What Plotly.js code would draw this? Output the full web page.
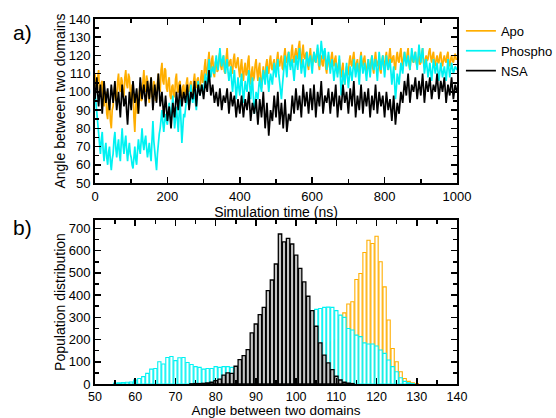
<!DOCTYPE html>
<html>
<head>
<meta charset="utf-8">
<script src="https://cdn.plot.ly/plotly-3.0.1.min.js"></script>
<style>html,body{margin:0;padding:0;background:#fff;}#chart{width:556px;height:418px;}</style>
</head>
<body>
<div id="chart"></div>
<script>
// ---- Time series (a): angle between two domains, sampled every 2.5 ns ----
const timeStep = 2.5;
const apoAngle = [
110,103,104,108,112,100,98,105,106,96,92,99,100,88,85,94,96,84,80,90,
92,100,104,95,96,106,110,101,100,108,106,97,98,108,112,104,102,110,108,100,
95,104,103,86,78,92,98,88,90,100,105,95,96,106,112,103,100,109,106,98,
94,103,108,97,98,106,104,95,96,105,110,101,100,112,116,106,104,113,112,102,
100,106,108,98,96,103,104,97,98,107,110,100,100,105,106,97,96,103,104,99,
98,105,108,101,100,104,106,98,97,106,110,103,102,107,108,101,100,108,112,105,
106,114,118,109,110,117,122,113,112,118,120,110,108,116,118,111,112,119,122,114,
112,117,120,111,110,119,124,115,114,117,118,111,110,118,121,114,113,117,119,112,
108,114,118,110,106,113,116,109,110,117,120,108,104,111,114,106,108,115,118,111,
106,113,116,105,102,110,114,107,108,115,118,111,110,117,120,113,112,116,118,112,
110,118,122,115,114,118,120,113,112,120,124,117,116,120,122,115,114,122,126,118,
116,121,124,119,118,125,128,120,114,122,126,119,118,121,122,115,112,120,124,117,
114,119,122,117,116,121,124,115,112,118,120,115,114,120,122,113,110,117,120,114,
112,119,122,116,114,118,120,113,110,115,118,111,108,113,116,108,104,110,114,109,
110,117,120,115,114,119,122,115,112,116,118,112,110,118,122,116,114,118,120,113,
110,115,118,113,112,117,120,113,110,118,122,116,114,117,118,112,110,117,120,115,
114,119,122,115,112,120,124,118,116,119,120,114,112,119,122,117,116,121,124,117,
114,119,122,117,116,121,124,115,112,118,120,117,116,120,122,116,114,118,120,115,
116,121,124,116,114,118,120,117,118,122,124,119,116,120,122,116,114,118,120,116,
116,120,122,116,114,118,120,117,116,120,122,116,114,118,120,117,116,119,121,118,
118];
const phosphoAngle = [
100,94,88,80,76,70,66,74,78,68,62,68,72,64,60,67,70,62,57,63,
66,74,78,69,64,70,74,66,62,72,80,71,66,72,76,68,62,68,72,66,
64,60,58,64,70,63,60,68,74,69,66,73,80,72,68,73,76,69,64,68,
72,66,62,74,84,73,66,61,57,66,74,77,80,86,90,83,78,84,88,84,
82,89,94,88,84,91,98,88,80,86,92,85,78,88,96,84,72,80,88,86,
90,96,100,94,92,99,104,97,94,98,100,94,90,99,106,101,98,102,104,101,
100,106,110,106,104,112,118,112,108,112,114,111,110,116,120,115,112,118,124,118,
114,118,120,114,110,115,118,111,106,110,114,106,100,106,112,104,96,102,108,102,
98,105,110,101,94,100,106,102,100,107,112,104,96,103,108,97,88,94,100,98,
96,103,108,103,100,107,112,108,104,110,114,106,100,106,110,107,104,110,116,111,
108,114,118,110,104,99,96,103,110,116,120,113,108,116,122,117,112,116,118,111,
106,113,120,116,112,119,124,116,110,114,118,113,108,115,122,118,114,118,120,115,
110,117,122,119,116,121,126,120,114,121,128,123,118,122,124,118,112,117,122,116,
110,115,118,112,106,111,116,112,108,114,120,110,98,104,112,108,104,110,116,108,
102,108,114,110,106,112,118,113,108,112,116,110,104,112,120,115,110,113,116,111,
106,112,118,113,108,114,120,116,112,115,118,112,106,114,122,117,112,116,120,114,
108,114,120,116,112,115,118,111,104,109,114,105,96,102,110,107,104,110,116,113,
110,116,122,118,114,117,120,116,112,118,124,120,116,119,122,117,112,119,126,121,
116,120,124,117,110,114,118,113,108,112,116,111,106,112,118,114,110,113,116,111,
106,111,116,112,108,111,114,110,106,112,118,113,108,112,116,113,110,112,114,113,
112];
const nsaAngle = [
96,103,108,99,92,98,104,96,88,97,106,100,94,98,102,95,90,97,104,99,
94,100,106,97,90,95,100,93,86,95,104,98,92,95,98,89,82,91,100,95,
90,98,106,100,94,98,102,95,88,98,108,102,96,100,104,98,92,99,106,101,
96,102,108,99,90,97,104,99,94,102,110,101,92,96,100,93,86,92,98,91,
84,88,92,86,80,87,94,90,86,93,100,95,90,97,104,98,92,96,100,97,
94,99,104,97,90,95,100,98,96,101,106,99,92,98,104,101,98,101,104,100,
96,101,106,103,100,106,112,105,98,101,104,99,94,97,100,96,92,97,102,96,
90,94,98,96,94,98,102,95,88,94,100,96,92,95,98,92,86,91,96,92,
88,93,98,92,86,91,96,93,90,95,100,92,84,89,94,91,88,92,96,89,
82,89,96,91,86,93,100,90,80,87,94,85,76,83,90,87,84,91,98,92,
86,93,100,91,82,88,94,87,80,88,96,87,78,83,88,86,84,91,98,93,
88,95,102,96,90,94,98,92,86,95,104,98,92,96,100,94,88,95,102,96,
90,97,104,95,86,93,100,96,92,99,106,97,88,93,98,96,94,98,102,95,
88,94,100,96,92,98,104,95,86,92,98,94,90,97,104,99,94,97,100,94,
88,95,102,97,92,99,106,96,86,92,98,94,90,97,104,96,88,94,100,96,
92,97,102,94,86,92,98,94,90,97,104,96,88,94,100,96,92,95,98,92,
86,93,100,95,90,93,96,90,84,91,98,90,82,88,94,91,88,94,100,97,
94,100,106,102,98,104,110,102,94,99,104,102,100,104,108,102,96,101,106,102,
98,104,110,102,94,100,106,103,100,104,108,102,96,100,104,102,100,105,110,103,
96,101,106,103,100,104,108,101,94,99,104,101,98,103,108,102,96,100,104,102,
100];

// ---- Histograms (b): population per 1-degree bin ----
const apoBins = [78,79,80,81,82,83,84,85,86,87,88,89,90,91,92,93,94,95,96,97,98,99,100,101,102,103,104,105,106,107,108,109,110,111,112,113,114,115,116,117,118,119,120,121,122,123,124,125,126,127,128,129,130];
const apoCounts = [3,5,8,10,10,12,12,12,15,20,25,25,35,55,60,70,80,105,120,145,150,150,195,180,160,160,170,180,130,135,185,190,200,290,320,360,370,470,497,592,647,632,665,550,437,288,160,100,55,25,12,5,2];
const phosphoBins = [55,56,57,58,59,60,61,62,63,64,65,66,67,68,69,70,71,72,73,74,75,76,77,78,79,80,81,82,83,84,85,86,87,88,89,90,91,92,93,94,95,96,97,98,99,100,101,102,103,104,105,106,107,108,109,110,111,112,113,114,115,116,117,118,119,120,121,122,123,124,125,126,127,128,129];
const phosphoCounts = [4,5,6,8,9,18,25,33,48,67,70,100,90,119,124,105,118,119,97,88,78,75,67,70,70,78,75,78,78,75,70,68,64,64,68,70,85,95,108,108,105,108,120,150,152,172,205,232,265,290,336,340,345,346,345,330,310,300,250,243,220,213,185,180,180,171,153,138,108,78,55,28,12,5,2];
const nsaBins = [74,75,76,77,78,79,80,81,82,83,84,85,86,87,88,89,90,91,92,93,94,95,96,97,98,99,100,101,102,103,104,105,106,107,108,109,110,111,112,113,114];
const nsaCounts = [1,2,2,3,5,8,15,22,40,50,48,80,110,128,155,230,270,312,345,420,468,540,675,640,655,630,580,520,460,395,330,260,185,130,95,65,35,18,8,4,2];

const timeAxis = apoAngle.map((_, i) => i * timeStep);

const ORANGE = '#ffae00';
const CYAN = '#00f2f2';
const FONT = 'Liberation Sans, Arial, sans-serif';

const traces = [
  {x: timeAxis, y: apoAngle, type: 'scatter', mode: 'lines', name: 'Apo',
   line: {color: ORANGE, width: 1.7}, xaxis: 'x', yaxis: 'y'},
  {x: timeAxis, y: phosphoAngle, type: 'scatter', mode: 'lines', name: 'Phospho',
   line: {color: CYAN, width: 1.7}, xaxis: 'x', yaxis: 'y'},
  {x: timeAxis, y: nsaAngle, type: 'scatter', mode: 'lines', name: 'NSA',
   line: {color: '#000000', width: 1.7}, xaxis: 'x', yaxis: 'y'},
  {x: apoBins, y: apoCounts, type: 'bar', width: 0.8, showlegend: false,
   marker: {color: '#ffffff', line: {color: ORANGE, width: 1.1}}, xaxis: 'x2', yaxis: 'y2'},
  {x: phosphoBins, y: phosphoCounts, type: 'bar', width: 0.8, showlegend: false,
   marker: {color: '#ffffff', line: {color: CYAN, width: 1.1}}, xaxis: 'x2', yaxis: 'y2'},
  {x: nsaBins, y: nsaCounts, type: 'bar', width: 0.85, showlegend: false,
   marker: {color: '#c4c4c4', line: {color: '#000000', width: 1.3}}, xaxis: 'x2', yaxis: 'y2'}
];

const axisCommon = {
  showline: true, linecolor: '#000', linewidth: 2, mirror: 'allticks',
  ticks: 'inside', ticklen: 6, tickwidth: 1.5, tickcolor: '#000',
  showgrid: false, zeroline: false, automargin: false,
  tickfont: {family: FONT, size: 13, color: '#000'}
};
const minorTicks = (d) => ({dtick: d, ticks: 'inside', ticklen: 4, tickcolor: '#000', tickwidth: 1.5});

const layout = {
  width: 556, height: 418,
  margin: {l: 95, r: 99, t: 19, b: 34},
  paper_bgcolor: '#fff', plot_bgcolor: '#fff',
  font: {family: FONT, color: '#000'},
  barmode: 'overlay',
  showlegend: true,
  legend: {xref: 'container', yref: 'container', x: 0.829, xanchor: 'left', y: 0.962, yanchor: 'top',
    font: {family: FONT, size: 13, color: '#000'}, bgcolor: 'rgba(0,0,0,0)', tracegroupgap: 0},
  xaxis: Object.assign({}, axisCommon, {domain: [0, 1], anchor: 'y', range: [0, 1000], dtick: 200,
    minor: minorTicks(100),
    title: {text: 'Simulation time (ns)', font: {family: FONT, size: 14}, standoff: 0}}),
  yaxis: Object.assign({}, axisCommon, {domain: [0.5507, 1], anchor: 'x', range: [50, 140], dtick: 10,
    minor: minorTicks(5),
    title: {text: 'Angle between two domains', font: {family: FONT, size: 14}, standoff: 0}}),
  xaxis2: Object.assign({}, axisCommon, {domain: [0, 1], anchor: 'y2', range: [50, 140], dtick: 10,
    minor: minorTicks(5), tickfont: {family: FONT, size: 12.5, color: '#000'},
    title: {text: 'Angle between two domains', font: {family: FONT, size: 13.5}, standoff: 3}}),
  yaxis2: Object.assign({}, axisCommon, {domain: [0, 0.4493], anchor: 'x2', range: [0, 738], dtick: 100,
    minor: minorTicks(50),
    title: {text: 'Population distribution', font: {family: FONT, size: 14}, standoff: 0}}),
  annotations: [
    {text: 'a)', xref: 'paper', yref: 'paper', x: -0.2, y: 0.962, xanchor: 'center', yanchor: 'middle',
     showarrow: false, font: {family: FONT, size: 21, color: '#000'}},
    {text: 'b)', xref: 'paper', yref: 'paper', x: -0.2, y: 0.43, xanchor: 'center', yanchor: 'middle',
     showarrow: false, font: {family: FONT, size: 21, color: '#000'}}
  ]
};

Plotly.newPlot('chart', traces, layout, {displayModeBar: false, staticPlot: true});
</script>
</body>
</html>
